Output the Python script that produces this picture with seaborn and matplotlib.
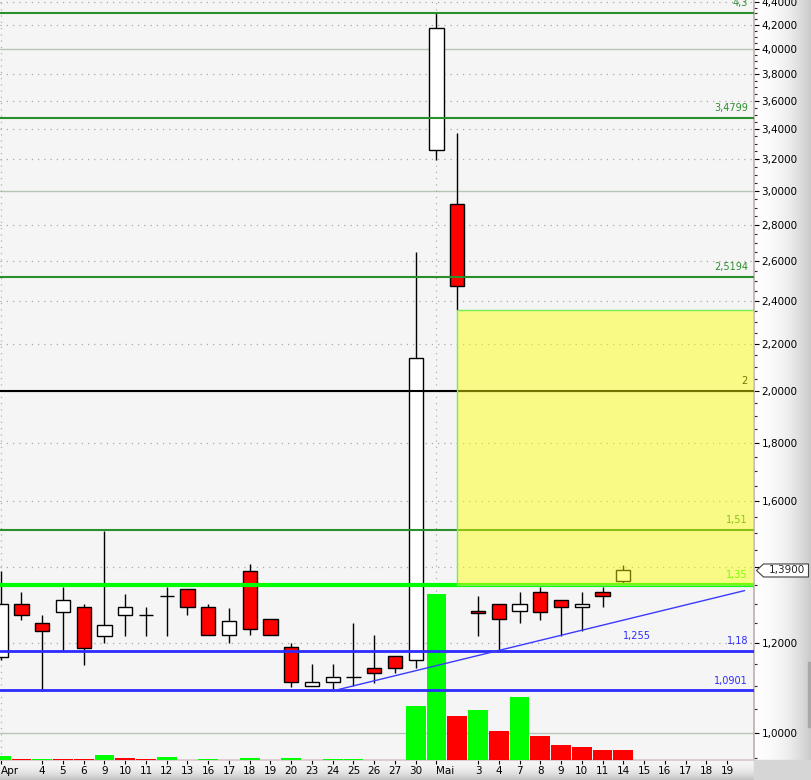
import numpy as np
import pandas as pd
import matplotlib
matplotlib.use('Agg')
import matplotlib.pyplot as plt
import seaborn as sns
from matplotlib.patches import Rectangle, Polygon
from matplotlib.ticker import FixedLocator, FuncFormatter, NullFormatter, NullLocator
from matplotlib.transforms import IdentityTransform

# x axis: one slot per trading day, Apr 2 .. May 19 (month name replaces the first label)
day_labels = ['Apr', '', '4', '5', '6', '9', '10', '11', '12', '13', '16', '17', '18',
              '19', '20', '23', '24', '25', '26', '27', '30', 'Mai', '', '3', '4', '7',
              '8', '9', '10', '11', '14', '15', '16', '17', '18', '19']

# daily candles, Apr 2 .. May 14
opens = [1.167, 1.298, 1.249, 1.279, 1.290, 1.218, 1.269, 1.269, 1.320, 1.338,
         1.290, 1.219, 1.388, 1.259, 1.190, 1.099, 1.108, 1.120, 1.140, 1.168,
         1.159, 3.258, 2.920, 1.280, 1.299, 1.280, 1.330, 1.309, 1.290, 1.330, 1.360]
highs = [1.389, 1.330, 1.269, 1.344, 1.299, 1.505, 1.325, 1.290, 1.344, 1.338,
         1.299, 1.288, 1.408, 1.259, 1.199, 1.150, 1.150, 1.250, 1.219, 1.168,
         2.651, 4.300, 3.372, 1.320, 1.299, 1.331, 1.344, 1.309, 1.331, 1.344, 1.406]
lows = [1.159, 1.257, 1.089, 1.181, 1.148, 1.199, 1.218, 1.218, 1.218, 1.269,
        1.219, 1.199, 1.219, 1.219, 1.098, 1.099, 1.089, 1.100, 1.107, 1.129,
        1.140, 3.194, 2.357, 1.217, 1.182, 1.249, 1.258, 1.216, 1.229, 1.292, 1.354]
closes = [1.298, 1.269, 1.229, 1.309, 1.189, 1.244, 1.290, 1.269, 1.320, 1.290,
          1.219, 1.254, 1.234, 1.219, 1.108, 1.108, 1.120, 1.120, 1.129, 1.140,
          2.138, 4.171, 2.476, 1.275, 1.259, 1.299, 1.279, 1.290, 1.298, 1.319, 1.390]

# volume (thousands) and bar colour
volume = [4, 1, 1, 1, 1, 5, 2, 1, 3, 0.5, 1, 0.5, 2, 0.5, 2, 0.5, 1, 1, 0.5, 0.5,
          54, 166, 44, 50, 29, 63, 24, 15, 13, 10, 10]
vol_side = ['up', 'down', 'up', 'down', 'down', 'up', 'down', 'down', 'up', 'down',
            'up', 'down', 'up', 'down', 'up', 'down', 'up', 'up', 'down', 'down',
            'up', 'up', 'down', 'up', 'down', 'up', 'down', 'down', 'down', 'down', 'down']

# drawn levels
green_levels = [4.3, 3.4799, 2.5194, 1.51]
green_texts = ['4,3', '3,4799', '2,5194', '1,51']
black_level = 2.0
lime_level = 1.35
blue_levels = [1.18, 1.0901]
blue_texts = ['1,18', '1,0901']
trend_from, trend_to = 16, 24      # the trendline runs through these two lows
trend_text = '1,255'
zone_start = 22                    # yellow zone: from this day's low down to 1.35

sns.set_theme(style='ticks')
plt.rcParams['font.family'] = ['DejaVu Sans']

n = len(closes)
x = np.arange(n)
X_MIN, X_MAX = -0.034, 36.3
Y_MIN, Y_MAX = 0.9467, 4.417

fig = plt.figure(figsize=(8.12, 7.80), dpi=100)
pos = [0, 20 / 780, 754 / 812, 760 / 780]

# window chrome: gradient strips right of and below the chart
g = np.linspace(0, 1, 64) ** 2.2
ax_r = fig.add_axes([754 / 812, 0, 58 / 812, 1])
ax_r.imshow((0.995 - 0.21 * g)[None, :, None] * np.ones((1, 1, 3)), aspect='auto', extent=[0, 1, 0, 1])
ax_r.axis('off')
ax_b = fig.add_axes([0, 0, 754 / 812, 20 / 780])
ax_b.imshow((0.96 - 0.2 * g)[:, None, None] * np.ones((1, 1, 3)), aspect='auto', extent=[0, 1, 0, 1])
ax_b.axis('off')
fig.add_artist(Rectangle((754 / 812, 0), 58 / 812, 20 / 780, transform=fig.transFigure,
                         color='#d6d6d6', zorder=1))
fig.add_artist(Rectangle((808 / 812, 53 / 780), 4 / 812, 65 / 780, transform=fig.transFigure,
                         color='#a8a8a8', zorder=1))

ax_bg = fig.add_axes(pos)
axv = fig.add_axes(pos)
ax = fig.add_axes(pos)
ax_bg.set_facecolor('#f5f5f5')
for a in (ax_bg, ax):
    a.set_yscale('log')
    a.set_ylim(Y_MIN, Y_MAX)

# grid
grid_vals = np.round(np.arange(1.0, 4.41, 0.2), 1)
for v in grid_vals:
    if v == int(v):
        ax_bg.axhline(v, color='#b9c4b9', lw=1.0)
    else:
        ax_bg.axhline(v, color='#a9a9a9', lw=0.9, ls=(0, (1, 4)))
for i, lab in enumerate(day_labels):
    if lab.isalpha():
        ax_bg.axvline(i, color='#a3bba3', lw=0.9, ls=(0, (1, 4)))


def price_fmt(v, p):
    # the 1,4000 label sits under the last-price tag
    if abs(v - 1.4) < 1e-9:
        return ''
    return f'{v:.4f}'.replace('.', ',')


ax_bg.yaxis.tick_right()
ax_bg.yaxis.set_major_locator(FixedLocator(grid_vals))
ax_bg.yaxis.set_minor_locator(FixedLocator(np.arange(0.95, 4.45, 0.05)))
ax_bg.yaxis.set_major_formatter(FuncFormatter(price_fmt))
ax_bg.yaxis.set_minor_formatter(NullFormatter())
ax_bg.tick_params(axis='y', which='major', length=3.8, width=0.8, pad=1.5, labelsize=7.5,
                  colors='black', right=True, left=False)
ax_bg.tick_params(axis='y', which='minor', length=2.3, width=0.8, right=True, left=False)
ticks = [i for i, lab in enumerate(day_labels) if lab]
ax_bg.set_xticks(ticks, [day_labels[i] for i in ticks])
ax_bg.xaxis.set_minor_locator(NullLocator())
ax_bg.tick_params(axis='x', length=3, width=0.8, pad=1.5, labelsize=7.5, colors='black')
for t in ax_bg.get_xticklabels():
    if t.get_text().isalpha():
        t.set_ha('left')
ax_bg.spines['top'].set_visible(False)
ax_bg.spines['left'].set_visible(False)
ax_bg.spines['right'].set_color('#c4b0b0')
ax_bg.spines['bottom'].set_color('#d9c9c9')

# volume
vol_df = pd.DataFrame({'day': x, 'volume': volume, 'side': vol_side})
sns.barplot(data=vol_df, x='day', y='volume', hue='side',
            palette={'up': '#00ff00', 'down': '#ff0000'}, native_scale=True, dodge=False,
            width=0.95, saturation=1, errorbar=None, legend=False, ax=axv, linewidth=0)
axv.set_ylim(0, 760)
axv.axis('off')

# candles
o = np.array(opens)
c = np.array(closes)
body_col = ['white' if cc >= oo else '#ff0000' for oo, cc in zip(o, c)]
ax.vlines(x, lows, highs, color='black', lw=1.0, zorder=3)
ax.bar(x, np.abs(c - o), bottom=np.minimum(o, c), width=0.68, color=body_col,
       edgecolor='black', linewidth=1.0, zorder=4)

# levels
for lv in green_levels:
    ax.axhline(lv, color='#2b8f2b', lw=1.5, zorder=5)
ax.axhline(black_level, color='black', lw=1.5, zorder=5)
ax.axhline(lime_level, color='#00ff00', lw=3.0, zorder=5)
for lv in blue_levels:
    ax.axhline(lv, color='#2c2cff', lw=2.0, zorder=5)

slope = (np.log(lows[trend_to]) - np.log(lows[trend_from])) / (trend_to - trend_from)
tx = np.array([trend_from, 35.85])
ax.plot(tx, lows[trend_from] * np.exp(slope * (tx - trend_from)), color='#3a3aff', lw=1.0, zorder=5)


def level_label(y, text, color):
    ax.annotate(text, xy=(0.992, y), xycoords=('axes fraction', 'data'), xytext=(0, 3.5),
                textcoords='offset points', ha='right', va='bottom', fontsize=7,
                color=color, zorder=6, clip_on=True)


for lv, t in zip(green_levels, green_texts):
    level_label(lv, t, '#2b8f2b')
level_label(black_level, '2', 'black')
level_label(lime_level, '1,35', '#00ff00')
for lv, t in zip(blue_levels, blue_texts):
    level_label(lv, t, '#2c2cff')
ax.text(30.65, 1.217, trend_text, ha='center', va='center', fontsize=7, color='#2c2cff', zorder=6)

# yellow target zone, drawn semi transparent over everything below it
ax.add_patch(Rectangle((zone_start, lime_level), X_MAX + 1 - zone_start, lows[zone_start] - lime_level,
                       facecolor=(1, 1, 0, 0.45), edgecolor='#74ee52', lw=1.0, zorder=7))

for a in (ax_bg, axv, ax):
    a.set_xlim(X_MIN, X_MAX)
ax.axis('off')

# last price tag on the price scale
yd = ax.transData.transform((0, closes[-1]))[1]
xd = ax.transAxes.transform((1, 0))[0] + 2.5
tag = [(xd, yd), (xd + 7, yd + 6.5), (xd + 52, yd + 6.5), (xd + 52, yd - 6.5), (xd + 7, yd - 6.5)]
fig.add_artist(Polygon(tag, closed=True, transform=IdentityTransform(), facecolor='white',
                       edgecolor='#404040', lw=0.8, zorder=10))
fig.text(xd + 30, yd, f'{closes[-1]:.4f}'.replace('.', ','), transform=IdentityTransform(),
         ha='center', va='center', fontsize=7.5, zorder=11)

fig.savefig('out.png', dpi=100)
